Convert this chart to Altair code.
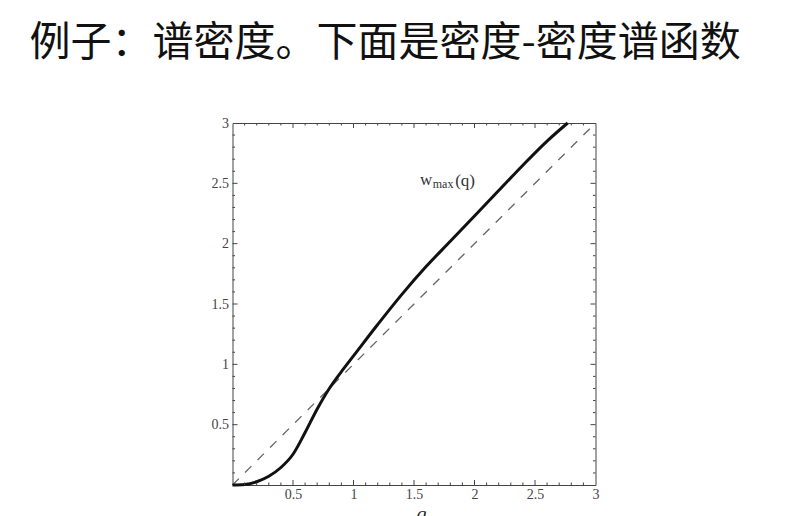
import altair as alt
import pandas as pd

# ---- data ----
q_solid = [0.0, 0.1, 0.2, 0.3, 0.4, 0.5, 0.6, 0.7, 0.8, 0.9, 1.0, 1.2, 1.4, 1.6, 1.8, 2.0, 2.2, 2.4, 2.6, 2.77]
w_solid = [0.0, 0.004, 0.027, 0.072, 0.145, 0.255, 0.435, 0.63, 0.8, 0.94, 1.07, 1.33, 1.58, 1.81, 2.02, 2.23, 2.44, 2.65, 2.85, 3.0]
q_dash = [0.0, 3.0]
w_dash = [0.0, 3.0]

x_labels = [0.5, 1.0, 1.5, 2.0, 2.5, 3.0]
y_labels = [0.5, 1.0, 1.5, 2.0, 2.5, 3.0]
major_ticks = [0.5, 1.0, 1.5, 2.0, 2.5]
minor_ticks = [0.1, 0.2, 0.3, 0.4, 0.6, 0.7, 0.8, 0.9, 1.1, 1.2, 1.3, 1.4,
               1.6, 1.7, 1.8, 1.9, 2.1, 2.2, 2.3, 2.4, 2.6, 2.7, 2.8, 2.9]

title_text = "例子：谱密度。下面是密度-密度谱函数"

W, H = 363, 362
MAJ, MIN = 5, 2.5
FRAME = "#444444"

solid_df = pd.DataFrame({"q": q_solid, "w": w_solid})
dash_df = pd.DataFrame({"q": q_dash, "w": w_dash})
major_df = pd.DataFrame({"v": major_ticks})
minor_df = pd.DataFrame({"v": minor_ticks})

xs = alt.Scale(domain=[0, 3], nice=False, zero=False)
ys = alt.Scale(domain=[0, 3], nice=False, zero=False)

x_axis = alt.Axis(values=x_labels, format="~g", ticks=False, domain=False, grid=False,
                  labelFont="Liberation Serif", labelFontSize=14, labelColor="#444444",
                  labelPadding=2, labelFlush=False, labelOverlap=False, title=None)
y_axis = alt.Axis(values=y_labels, format="~g", ticks=False, domain=False, grid=False,
                  labelFont="Liberation Serif", labelFontSize=14, labelColor="#444444",
                  labelPadding=4, labelFlush=False, labelOverlap=False, title=None)

dashed = alt.Chart(dash_df).mark_line(color="#666666", strokeWidth=1.3, strokeDash=[9, 8.7]).encode(
    x=alt.X("q:Q", scale=xs, axis=x_axis),
    y=alt.Y("w:Q", scale=ys, axis=y_axis),
)

solid = alt.Chart(solid_df).mark_line(color="#111111", strokeWidth=3, interpolate="monotone").encode(
    x=alt.X("q:Q", scale=xs),
    y=alt.Y("w:Q", scale=ys),
)

def tick_layers(df, length):
    bottom = alt.Chart(df).mark_rule(color=FRAME, strokeWidth=1).encode(
        x=alt.X("v:Q", scale=xs), y=alt.value(H), y2=alt.value(H - length))
    top = alt.Chart(df).mark_rule(color=FRAME, strokeWidth=1).encode(
        x=alt.X("v:Q", scale=xs), y=alt.value(0), y2=alt.value(length))
    left = alt.Chart(df).mark_rule(color=FRAME, strokeWidth=1).encode(
        y=alt.Y("v:Q", scale=ys), x=alt.value(0), x2=alt.value(length))
    right = alt.Chart(df).mark_rule(color=FRAME, strokeWidth=1).encode(
        y=alt.Y("v:Q", scale=ys), x=alt.value(W), x2=alt.value(W - length))
    return [bottom, top, left, right]

ticks = tick_layers(major_df, MAJ) + tick_layers(minor_df, MIN)

one = pd.DataFrame({"t": [0]})

title = alt.Chart(one).mark_text(
    text=title_text, font="Noto Sans CJK SC", fontSize=41, color="#111111",
    align="left", baseline="middle").encode(x=alt.value(-203), y=alt.value(-79))

label_w = alt.Chart(pd.DataFrame({"q": [1.55], "w": [2.49]})).mark_text(
    text="w", font="Liberation Serif", fontSize=17, color="#333333",
    align="left", baseline="alphabetic").encode(x=alt.X("q:Q", scale=xs), y=alt.Y("w:Q", scale=ys))
label_max = alt.Chart(pd.DataFrame({"q": [1.655], "w": [2.465]})).mark_text(
    text="max", font="Liberation Serif", fontSize=12, color="#333333",
    align="left", baseline="alphabetic").encode(x=alt.X("q:Q", scale=xs), y=alt.Y("w:Q", scale=ys))
label_q = alt.Chart(pd.DataFrame({"q": [1.84], "w": [2.475]})).mark_text(
    text="(q)", font="Liberation Serif", fontSize=17, color="#333333",
    align="left", baseline="alphabetic").encode(x=alt.X("q:Q", scale=xs), y=alt.Y("w:Q", scale=ys))

xtitle = alt.Chart(one).mark_text(
    text="q", font="Liberation Serif", fontSize=20, fontStyle="italic", color="#222222",
    align="center", baseline="alphabetic").encode(x=alt.value(189), y=alt.value(398))

chart = alt.layer(
    dashed, solid, *ticks, label_w, label_max, label_q, xtitle, title
).properties(
    width=W, height=H,
    autosize=alt.AutoSizeParams(type="none"),
    padding={"left": 224.5, "top": 115, "right": 196.5, "bottom": 40},
    background="white",
).configure_view(stroke=FRAME, strokeWidth=1)

chart.save("out.html", embed_options={"renderer": "svg", "actions": False})
